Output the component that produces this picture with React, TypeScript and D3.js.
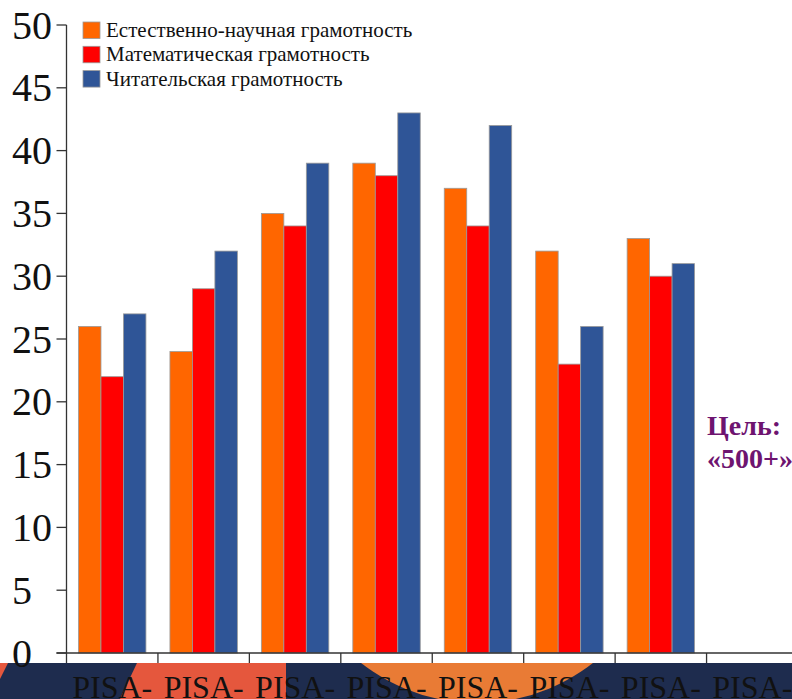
import React from "react";
import * as d3 from "d3";

const categories = ["PISA-2000", "PISA-2003", "PISA-2006", "PISA-2009", "PISA-2012", "PISA-2015", "PISA-2018", "PISA-2022"];
const seriesNames = ["Естественно-научная грамотность", "Математическая грамотность", "Читательская грамотность"];
const science = [26, 24, 35, 39, 37, 32, 33, null];
const math = [22, 29, 34, 38, 34, 23, 30, null];
const reading = [27, 32, 39, 43, 42, 26, 31, null];
const yTicks = [0, 5, 10, 15, 20, 25, 30, 35, 40, 45, 50];
const colors = ["#FF6600", "#FF0000", "#2F5597"];
const goalLines = ["Цель:", "«500+»"];

const W = 792;
const H = 699;
const FONT = '"Liberation Serif", "Times New Roman", "DejaVu Serif", serif';

export default function App() {
  const series = [science, math, reading];
  const x0 = d3.scaleBand<string>().domain(categories).range([66.5, 798]).padding(0);
  const pad = 12;
  const x1 = d3.scaleBand<number>().domain([0, 1, 2]).range([pad, x0.bandwidth() - pad]).padding(0);
  const y = d3.scaleLinear().domain([0, 50]).range([653, 25]);

  const axisX = 66.5;
  const baseY = y(0);

  return (
    <svg width={W} height={H} style={{ position: "absolute", left: 0, top: 0, display: "block", fontFamily: FONT }}>
      <rect x={0} y={0} width={W} height={H} fill="#ffffff" />
      {/* bottom decoration */}
      <g>
        <clipPath id="band">
          <rect x={0} y={663} width={W} height={H - 663} />
        </clipPath>
        <g clipPath="url(#band)">
          <rect x={0} y={663} width={W} height={H - 663} fill="#1E2C4E" />
          <polygon points="0,663 8,663 -10,699 0,699" fill="#E5573D" />
          <polygon points="137,663 286,663 286,699 120,699" fill="#E5573D" />
          <circle cx={477} cy={515} r={188} fill="#E97B35" />
        </g>
      </g>

      {/* bars */}
      {categories.map((c, i) => (
        <g key={c} transform={`translate(${x0(c)},0)`}>
          {series.map((s, j) => {
            const v = s[i];
            if (v == null) return null;
            return (
              <rect
                key={j}
                x={x1(j)}
                y={y(v)}
                width={x1.bandwidth()}
                height={baseY - y(v)}
                fill={colors[j]}
                stroke="#9a9a9a"
                strokeWidth={0.8}
              />
            );
          })}
        </g>
      ))}

      {/* axes */}
      <g stroke="#333" strokeWidth={1.3} fill="none">
        <line x1={axisX} x2={axisX} y1={y(50)} y2={baseY} />
        {yTicks.map((t) => (
          <line key={t} x1={axisX - 10} x2={axisX} y1={y(t)} y2={y(t)} />
        ))}
        <line x1={axisX - 10} x2={W} y1={baseY} y2={baseY} />
        {categories.map((c) => (
          <line key={c} x1={x0(c)} x2={x0(c)} y1={baseY} y2={baseY + 10} />
        ))}
      </g>
      {yTicks.map((t) => (
        <text key={t} x={12} y={y(t)} dy="0.34em" textAnchor="start" fontSize={40} fill="#111">
          {t}
        </text>
      ))}

      {/* x labels */}
      {categories.map((c) => {
        const parts = c.split("-");
        const cx = (x0(c) as number) + x0.bandwidth() / 2;
        return (
          <text key={c} x={cx} y={698} textAnchor="middle" fontSize={32} fill="#111">
            <tspan x={cx}>{parts[0] + "-"}</tspan>
            <tspan x={cx} dy="1.1em">{parts[1]}</tspan>
          </text>
        );
      })}

      {/* legend */}
      {seriesNames.map((n, i) => (
        <g key={n} transform={`translate(83,${22 + i * 24.3})`}>
          <rect x={0} y={0} width={17} height={16.5} fill={colors[i]} stroke="#9a9a9a" strokeWidth={0.8} />
          <text x={23} y={15} fontSize={21} fill="#111">
            {n}
          </text>
        </g>
      ))}

      {/* goal text */}
      {goalLines.map((g, i) => (
        <text key={g} x={707} y={435 + i * 33} fontSize={28} fontWeight="bold" fill="#6E1470">
          {g}
        </text>
      ))}
    </svg>
  );
}
